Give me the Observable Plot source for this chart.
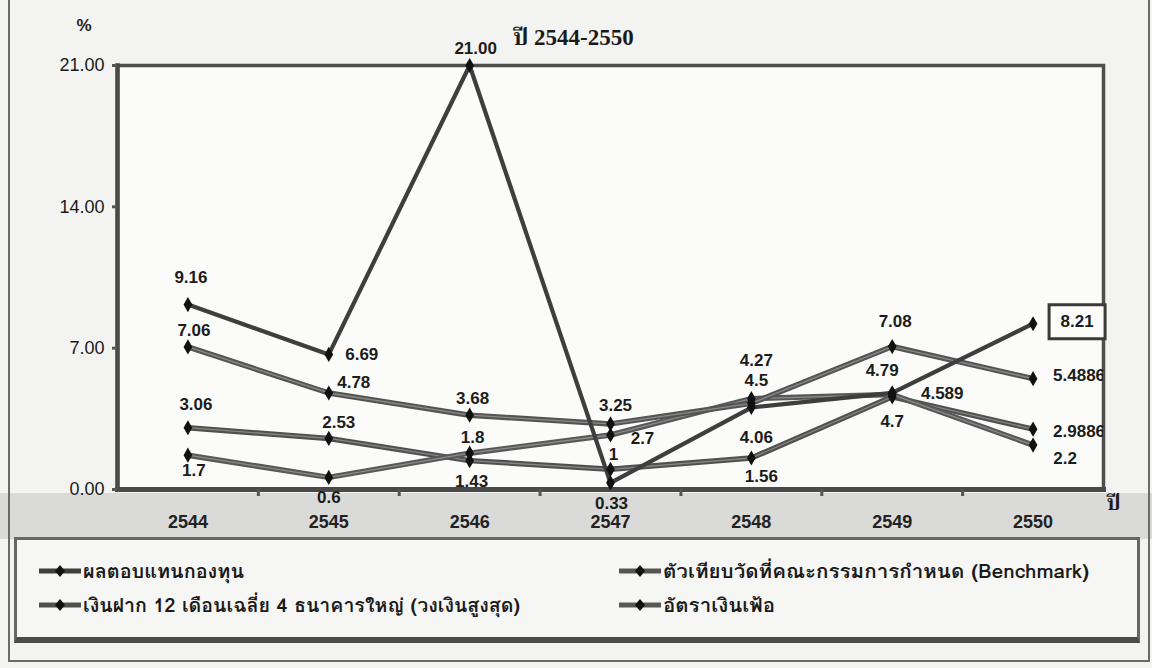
<!DOCTYPE html>
<html>
<head>
<meta charset="utf-8">
<script src="https://cdn.jsdelivr.net/npm/d3@7"></script>
<script src="https://cdn.jsdelivr.net/npm/@observablehq/plot@0.6"></script>
<style>
  body { margin: 0; background: #f2f2f0; }
  #wrap { position: relative; width: 1152px; height: 668px; overflow: hidden; background: #f3f3f1; }
  #band { position: absolute; left: 0; top: 493px; width: 1152px; height: 46px; background: #dadad8; }
  #chart { position: absolute; left: 0; top: 0; }
  #legend { position: absolute; left: 14px; top: 537px; width: 1126px; height: 106px; box-sizing: border-box;
            border: 3px solid #666; border-bottom: 6px solid #4a4a4a; background: #f6f6f4; }
  .item { position: absolute; height: 30px; display: flex; align-items: center; white-space: nowrap; }
  .item svg { flex: none; }
  .item span { display: inline-block; transform-origin: 0 50%;
               font-family: "Loma", "Garuda", "Norasi", "Noto Sans Thai Looped", "Noto Serif Thai", "Noto Sans Thai", "Noto Sans", sans-serif;
               font-size: 19px; font-weight: bold; color: #1a1a1a; }
  #outer { position: absolute; left: 8px; top: -4px; width: 1142px; height: 666px; box-sizing: border-box; border: 2px solid #6a6a6a; }
</style>
</head>
<body>
<div id="wrap">
  <div id="band"></div>
  <div id="chart"></div>
  <div id="legend"></div>
  <div id="outer"></div>
</div>
<script>
// ---- data ----
const years = [2544, 2545, 2546, 2547, 2548, 2549, 2550];
const seriesNames = [
  "ผลตอบแทนกองทุน",
  "ตัวเทียบวัดที่คณะกรรมการกำหนด (Benchmark)",
  "เงินฝาก 12 เดือนเฉลี่ย 4 ธนาคารใหญ่ (วงเงินสูงสุด)",
  "อัตราเงินเฟ้อ"
];
const fundValues      = [9.16, 6.69, 21.00, 0.33, 4.06, 4.79, 8.21];
const benchmarkValues = [7.06, 4.78, 3.68, 3.25, 4.27, 7.08, 5.4886];
const depositValues   = [3.06, 2.53, 1.43, 1.00, 1.56, 4.589, 2.9886];
const inflationValues = [1.7, 0.6, 1.8, 2.7, 4.5, 4.7, 2.2];
const fundLabels      = ["9.16", "6.69", "21.00", "0.33", "4.06", "4.79", "8.21"];
const benchmarkLabels = ["7.06", "4.78", "3.68", "3.25", "4.27", "7.08", "5.4886"];
const depositLabels   = ["3.06", "2.53", "1.43", "1", "1.56", "4.589", "2.9886"];
const inflationLabels = ["1.7", "0.6", "1.8", "2.7", "4.5", "4.7", "2.2"];
const yTicks = [0, 7, 14, 21];
const titleText = "ปี 2544-2550";
const yUnit = "%";
const xUnit = "ปี";

// ---- label placement (pixel offsets from each point) ----
const fundOffsets      = [[3, -27], [33, 0], [6, -17], [1, 21], [5, 30], [-10, -22], [44, -2]];
const benchmarkOffsets = [[6, -16], [25, -10], [3, -17], [5, -18], [5, -43], [3, -25], [46, -3]];
const depositOffsets   = [[8, -23], [10, -16], [2, 21], [3, -15], [10, 19], [50, -3], [46, 2]];
const inflationOffsets = [[6, 15], [0, 20], [3, -16], [32, 4], [5, -18], [0, 27], [32, 13]];

const series = [
  {name: seriesNames[0], values: fundValues, labels: fundLabels, offsets: fundOffsets, stroke: "#3e3e3e", width: 4.2, inner: null},
  {name: seriesNames[1], values: benchmarkValues, labels: benchmarkLabels, offsets: benchmarkOffsets, stroke: "#545454", width: 5.5, inner: "#8a8a8a"},
  {name: seriesNames[2], values: depositValues, labels: depositLabels, offsets: depositOffsets, stroke: "#505050", width: 5.5, inner: "#868686"},
  {name: seriesNames[3], values: inflationValues, labels: inflationLabels, offsets: inflationOffsets, stroke: "#585858", width: 5.5, inner: "#8c8c8c"}
];

const rows = [];
series.forEach((s, si) => years.forEach((yr, i) => rows.push({
  series: s.name, si, year: yr, value: s.values[i], label: s.labels[i], dx: s.offsets[i][0], dy: s.offsets[i][1]
})));

const numFont = "'Liberation Sans', Arial, sans-serif";
const serifFont = "'Liberation Serif', 'Norasi', 'Noto Serif Thai', 'Noto Sans Thai', serif";

const marks = [];
marks.push(Plot.frame({fill: "#fbfbfa", stroke: "none"}));
// lines
[2, 3, 1, 0].forEach(si => {
  const s = series[si];
  const data = rows.filter(r => r.si === si);
  marks.push(Plot.line(data, {x: "year", y: "value", stroke: s.stroke, strokeWidth: s.width, strokeLinejoin: "miter"}));
  if (s.inner) marks.push(Plot.line(data, {x: "year", y: "value", stroke: s.inner, strokeWidth: 1.3}));
});
// frame / axes
marks.push(Plot.frame({stroke: "#4e4e4e", strokeWidth: 3.5}));
marks.push(Plot.frame({anchor: "left", stroke: "#4a4a4a", strokeWidth: 4.5}));
marks.push(Plot.frame({anchor: "bottom", stroke: "#4a4a4a", strokeWidth: 5}));
marks.push(Plot.axisY({ticks: yTicks, tickFormat: d3.format(".2f"), tickSize: 5, tickPadding: 8,
  fontSize: 18, fontFamily: numFont, stroke: "#555", strokeWidth: 3, label: null, fill: "#1a1a1a"}));
marks.push(Plot.axisX({ticks: years.slice(1).map(y => y - 0.5), tickFormat: () => "", tickSize: 7,
  stroke: "#555", strokeWidth: 3, label: null}));
marks.push(Plot.axisX({ticks: years, tickFormat: d => String(d), tickSize: 0, tickPadding: 26,
  fontSize: 18, fontWeight: "bold", fontFamily: numFont, label: null, fill: "#222"}));
// markers
marks.push(Plot.dot(rows, {x: "year", y: "value", symbol: "diamond", r: 4.6, fill: "#111", stroke: "none"}));
// boxed label frame for the final fund value
const boxSymbol = {draw(ctx) { ctx.rect(-28, -17, 56, 34); }};
const lastFund = rows.filter(r => r.si === 0 && r.year === years[years.length - 1]);
marks.push(Plot.dot(lastFund, {x: "year", y: "value", symbol: boxSymbol, dx: fundOffsets[6][0], dy: fundOffsets[6][1],
  fill: "#fbfbfa", stroke: "#3a3a3a", strokeWidth: 3}));
// value labels
rows.forEach(r => {
  marks.push(Plot.text([r], {x: "year", y: "value", text: "label", dx: r.dx, dy: r.dy,
    fontSize: 17, fontWeight: 600, fontFamily: numFont, fill: "#1c1c1c",
    clip: r.year === years[years.length - 1] ? "frame" : undefined}));
});
// unit / title texts
marks.push(Plot.text([yUnit], {frameAnchor: "top-left", text: d => d, dx: -41, dy: -47, fontSize: 17, fontWeight: "bold", fontFamily: numFont, fill: "#222"}));
marks.push(Plot.text([titleText], {frameAnchor: "top", text: d => d, dx: -37, dy: -37, fontSize: 23, fontWeight: "bold", fontFamily: serifFont, fill: "#1a1a1a"}));
marks.push(Plot.text([xUnit], {frameAnchor: "bottom-right", text: d => d, dx: 17, dy: 20, fontSize: 21, fontWeight: "bold", fontFamily: serifFont, fill: "#1a1a1a"}));

const chart = Plot.plot({
  width: 1152, height: 538,
  marginLeft: 117, marginRight: 49, marginTop: 65, marginBottom: 49,
  style: {background: "transparent", overflow: "visible"},
  x: {type: "linear", domain: [years[0] - 0.5, years[years.length - 1] + 0.5], axis: null},
  y: {domain: [0, 21], axis: null},
  marks
});
document.getElementById("chart").appendChild(chart);

// ---- legend (HTML below the chart) ----
const legend = document.getElementById("legend");
const legendPos = [[22, 16], [602, 16], [22, 50], [602, 50]];
const legendWidths = [161, 426, 437, 112];
series.forEach((s, i) => {
  const div = document.createElement("div");
  div.className = "item";
  div.style.left = legendPos[i][0] + "px";
  div.style.top = legendPos[i][1] + "px";
  div.innerHTML = `<svg width="42" height="20" viewBox="0 0 42 20"><line x1="0" y1="10" x2="42" y2="10" stroke="${s.stroke}" stroke-width="5"/>` +
    `<path d="M21 4 L26 10 L21 16 L16 10 Z" fill="#111"/></svg>`;
  const span = document.createElement("span");
  span.textContent = s.name;
  span.style.marginLeft = "2px";
  div.appendChild(span);
  legend.appendChild(div);
  const w = span.getBoundingClientRect().width;
  if (w > 0) span.style.transform = `scaleX(${legendWidths[i] / w})`;
});
</script>
</body>
</html>
